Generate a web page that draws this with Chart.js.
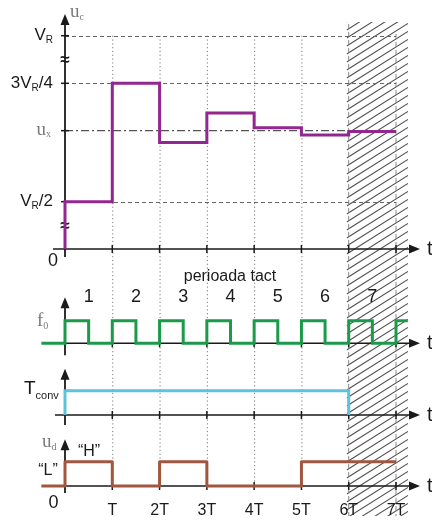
<!DOCTYPE html>
<html><head><meta charset="utf-8">
<script src="https://cdn.jsdelivr.net/npm/chart.js@4"></script>
<style>html,body{margin:0;padding:0;background:#fff;overflow:hidden}canvas{display:block}</style>
</head><body>
<canvas id="c" width="432" height="520"></canvas>
<script>
// ---------------- DATA ----------------
const periods = ['1','2','3','4','5','6','7'];
const timeTickLabels = ['T','2T','3T','4T','5T','6T','7T'];
// u_c (in units of V_R) held during each clock period
const ucLevels = [0.5, 0.75, 0.625, 0.6875, 0.65625, 0.640625, 0.6484375];
const ucStart = 0;
const uxLevel = 0.65;
const ucRefValues = [1, 0.75, 0.5];           // V_R, 3V_R/4, V_R/2
const ucRefLabels = [['V','R',''], ['3V','R','/4'], ['V','R','/2']];
// clock f0
const f0Times  = [-0.5, 0, 0.5, 1, 1.5, 2, 2.5, 3, 3.5, 4, 4.5, 5, 5.5, 6, 6.5, 7, 7.25];
const f0Levels = [0, 1, 0, 1, 0, 1, 0, 1, 0, 1, 0, 1, 0, 1, 0, 1, 1];
// conversion time
const tconvTimes  = [0, 0, 6];
const tconvLevels = [0, 1, 0];
// comparator decision per period (1 = "H", 0 = "L")
const udBits = [1, 0, 1, 0, 0, 1, 1];
const udStartTime = -0.5;
const conversionEnd = 6;

// ---------------- LAYOUT (pixels) ----------------
const X0 = 65, X7 = 396;
const PANELS = { yc: [14, 249], yf: [320.7, 343.3], yt: [390.7, 415], yd: [461.7, 486] };
// broken u_c axis: [value, fraction of axis height]
const UC_PIECES = [[0, 0], [0.5, 0.2013], [0.75, 0.7051], [1, 0.9077], [1.114, 1]];

class BrokenScale extends Chart.LinearScale {
  static id = 'broken';
  static defaults = Chart.LinearScale.defaults;
  getPixelForValue(value) {
    const p = UC_PIECES;
    let i = 1;
    while (i < p.length - 1 && value > p[i][0]) i++;
    const [v0, f0] = p[i - 1], [v1, f1] = p[i];
    const f = f0 + (value - v0) / (v1 - v0) * (f1 - f0);
    return this.bottom - f * (this.bottom - this.top);
  }
  getValueForPixel(pixel) {
    const f = (this.bottom - pixel) / (this.bottom - this.top);
    const p = UC_PIECES;
    let i = 1;
    while (i < p.length - 1 && f > p[i][1]) i++;
    const [v0, f0] = p[i - 1], [v1, f1] = p[i];
    return v0 + (f - f0) / (f1 - f0) * (v1 - v0);
  }
}
Chart.register(BrokenScale);

// build datasets from data arrays
const ucPoints = [{x: 0, y: ucStart}].concat(ucLevels.map((v, i) => ({x: i, y: v})));
ucPoints.push({x: ucLevels.length, y: ucLevels[ucLevels.length - 1]});
const f0Points = f0Times.map((t, i) => ({x: t, y: f0Levels[i]}));
const tconvPoints = tconvTimes.map((t, i) => ({x: t, y: tconvLevels[i]}));
const udPoints = [{x: udStartTime, y: 0}].concat(udBits.map((b, i) => ({x: i, y: b})));
udPoints.push({x: udBits.length, y: udBits[udBits.length - 1]});

const SANS = '"Liberation Sans", Arial, sans-serif';
const SERIF = '"Liberation Serif", "DejaVu Serif", serif';

function drawParts(ctx, parts, x, y, align) {
  let w = 0;
  parts.forEach(p => { ctx.font = p.font; p.w = ctx.measureText(p.t).width; w += p.w; });
  let cx = align === 'right' ? x - w : align === 'center' ? x - w / 2 : x;
  ctx.textBaseline = 'middle'; ctx.textAlign = 'left';
  parts.forEach(p => {
    ctx.font = p.font; ctx.fillStyle = p.color || '#1a1a1a';
    ctx.fillText(p.t, cx, y + (p.dy || 0));
    cx += p.w;
  });
}

const fixLayout = {
  id: 'fixLayout',
  afterLayout(chart) {
    const xs = chart.scales.x;
    const u = (X7 - X0) / 7;
    xs.left = X0 - u; xs.right = X7 + u; xs.width = xs.right - xs.left;
    xs.configure();
    for (const [id, [t, b]] of Object.entries(PANELS)) {
      const s = chart.scales[id];
      s.top = t; s.bottom = b; s.height = b - t;
      s.configure();
    }
  }
};

const diagram = {
  id: 'diagram',
  beforeDatasetsDraw(chart) {
    const ctx = chart.ctx;
    const X = v => chart.scales.x.getPixelForValue(v);
    const yc = chart.scales.yc, yf = chart.scales.yf, yt = chart.scales.yt, yd = chart.scales.yd;
    ctx.save();
    // hatch (after conversion end)
    const hx0 = X(conversionEnd) - 2, hx1 = X(7) + 12, hy0 = 22, hy1 = 516;
    ctx.save();
    ctx.beginPath(); ctx.rect(hx0, hy0, hx1 - hx0, hy1 - hy0); ctx.clip();
    ctx.strokeStyle = '#4d4d4d'; ctx.lineWidth = 1.05;
    const s = 0.63, step = 8;
    for (let b = hy0; b < hy1 + s * (hx1 - hx0) + step; b += step) {
      ctx.beginPath(); ctx.moveTo(hx0, b); ctx.lineTo(hx1, b - s * (hx1 - hx0)); ctx.stroke();
    }
    ctx.restore();
    // dotted verticals at T..5T
    ctx.strokeStyle = '#777'; ctx.lineWidth = 1; ctx.setLineDash([1.2, 2.6]);
    for (let i = 1; i <= 5; i++) {
      ctx.beginPath(); ctx.moveTo(X(i) + 0.5, yc.getPixelForValue(1)); ctx.lineTo(X(i) + 0.5, yd.getPixelForValue(0)); ctx.stroke();
    }
    // dashed verticals at 6T, 7T
    ctx.strokeStyle = '#888'; ctx.setLineDash([5, 3]);
    ctx.beginPath(); ctx.moveTo(X(6), 24); ctx.lineTo(X(6), 516); ctx.stroke();
    ctx.beginPath(); ctx.moveTo(X(7), 34); ctx.lineTo(X(7), 516); ctx.stroke();
    // horizontal reference lines
    ctx.strokeStyle = '#666'; ctx.setLineDash([4, 3]);
    ucRefValues.forEach(v => {
      const y = Math.round(yc.getPixelForValue(v)) + 0.5;
      ctx.beginPath(); ctx.moveTo(X(0), y); ctx.lineTo(X(7), y); ctx.stroke();
    });
    ctx.strokeStyle = '#555'; ctx.lineWidth = 1.3; ctx.setLineDash([8, 3, 2, 3]);
    { const y = yc.getPixelForValue(uxLevel);
      ctx.beginPath(); ctx.moveTo(X(0), y); ctx.lineTo(X(7), y); ctx.stroke(); }
    ctx.setLineDash([]);
    // axes
    const axes = [
      {y0: yc.getPixelForValue(0), tip: yc.top, xStart: 53, below: 8},
      {y0: yf.getPixelForValue(0), tip: yf.top - 23.5, xStart: 55, below: 12},
      {y0: yt.getPixelForValue(0), tip: yt.top - 22, xStart: 55, below: 10},
      {y0: yd.getPixelForValue(0), tip: yd.top - 22.5, xStart: 55, below: 7},
    ];
    ctx.strokeStyle = '#1a1a1a'; ctx.fillStyle = '#1a1a1a';
    axes.forEach(a => {
      ctx.lineWidth = 1.4;
      ctx.beginPath(); ctx.moveTo(a.xStart, a.y0); ctx.lineTo(412, a.y0); ctx.stroke();
      ctx.beginPath(); ctx.moveTo(420, a.y0); ctx.lineTo(409, a.y0 - 4.5); ctx.lineTo(409, a.y0 + 4.5); ctx.closePath(); ctx.fill();
      ctx.lineWidth = 1.8;
      ctx.beginPath(); ctx.moveTo(X(0), a.y0 + a.below); ctx.lineTo(X(0), a.tip + 8); ctx.stroke();
      ctx.beginPath(); ctx.moveTo(X(0), a.tip); ctx.lineTo(X(0) - 4.5, a.tip + 11); ctx.lineTo(X(0) + 4.5, a.tip + 11); ctx.closePath(); ctx.fill();
      ctx.lineWidth = 1.5;
      for (let i = 1; i <= 7; i++) {
        ctx.beginPath(); ctx.moveTo(X(i), a.y0 - 4); ctx.lineTo(X(i), a.y0 + 4); ctx.stroke();
      }
    });
    // y ticks on u_c axis
    ctx.lineWidth = 1.5;
    ucRefValues.concat([uxLevel]).forEach(v => {
      const y = yc.getPixelForValue(v);
      ctx.beginPath(); ctx.moveTo(X(0) - 4, y); ctx.lineTo(X(0) + 4, y); ctx.stroke();
    });
    // axis break marks
    ctx.font = 'bold 17px ' + SANS; ctx.textAlign = 'center'; ctx.textBaseline = 'middle';
    ctx.fillText('\u2248', X(0), (yc.getPixelForValue(1) + yc.getPixelForValue(0.75)) / 2 + 1);
    ctx.fillText('\u2248', X(0), (yc.getPixelForValue(0.5) + yc.getPixelForValue(0)) / 2 + 1);
    ctx.restore();
  },
  afterDatasetsDraw(chart) {
    const ctx = chart.ctx;
    const X = v => chart.scales.x.getPixelForValue(v);
    const yc = chart.scales.yc, yf = chart.scales.yf, yt = chart.scales.yt, yd = chart.scales.yd;
    ctx.save();
    const M17 = '17px ' + SANS, S10 = '10px ' + SANS, GREY = '#7a7a7a';
    // u_c axis labels
    ucRefValues.forEach((v, i) => {
      const [a, b, c] = ucRefLabels[i];
      drawParts(ctx, [{t: a, font: M17}, {t: b, font: S10, dy: 5}, {t: c, font: M17}], 53, yc.getPixelForValue(v), 'right');
    });
    drawParts(ctx, [{t: 'u', font: '19px ' + SERIF, color: GREY}, {t: 'x', font: '10px ' + SERIF, color: GREY, dy: 5}], 51, yc.getPixelForValue(uxLevel) - 1, 'right');
    drawParts(ctx, [{t: 'u', font: '19px ' + SERIF, color: GREY}, {t: 'c', font: '10px ' + SERIF, color: GREY, dy: 5}], 70, 12, 'left');
    drawParts(ctx, [{t: '0', font: '18px ' + SANS}], 53, 261, 'center');
    // t labels
    [yc.getPixelForValue(0), yf.getPixelForValue(0), yt.getPixelForValue(0), yd.getPixelForValue(0)].forEach(y =>
      drawParts(ctx, [{t: 't', font: '20px ' + SANS}], 427, y, 'left'));
    // period labels
    drawParts(ctx, [{t: 'perioada tact', font: '16px ' + SANS}], 230, 277, 'center');
    periods.forEach((p, i) => drawParts(ctx, [{t: p, font: '18px ' + SANS}], X(i + 0.5), 297, 'center'));
    // panel labels
    drawParts(ctx, [{t: 'f', font: '19px ' + SERIF, color: GREY}, {t: '0', font: '10px ' + SERIF, color: GREY, dy: 5}], 37, 321, 'left');
    drawParts(ctx, [{t: 'T', font: '19px ' + SANS}, {t: 'conv', font: '11px ' + SANS, dy: 7}], 24, 389, 'left');
    drawParts(ctx, [{t: 'u', font: '19px ' + SERIF, color: GREY}, {t: 'd', font: '10px ' + SERIF, color: GREY, dy: 5}], 42, 442, 'left');
    drawParts(ctx, [{t: '\u201cH\u201d', font: '16px ' + SANS}], 89, 452, 'center');
    drawParts(ctx, [{t: '\u201cL\u201d', font: '16px ' + SANS}], 48, 471, 'center');
    drawParts(ctx, [{t: '0', font: '18px ' + SANS}], 53.5, 503, 'center');
    timeTickLabels.forEach((l, i) => drawParts(ctx, [{t: l, font: '16px ' + SANS}], X(i + 1), 511, 'center'));
    ctx.restore();
  }
};

const base = {pointRadius: 0, borderWidth: 3, fill: false, clip: false, stepped: true, tension: 0};
new Chart(document.getElementById('c'), {
  type: 'line',
  data: { datasets: [
    Object.assign({label: 'u_c', data: ucPoints, yAxisID: 'yc', borderColor: '#92278f'}, base),
    Object.assign({label: 'f0', data: f0Points, yAxisID: 'yf', borderColor: '#1b9a4a'}, base),
    Object.assign({label: 'Tconv', data: tconvPoints, yAxisID: 'yt', borderColor: '#5cc3d8'}, base),
    Object.assign({label: 'u_d', data: udPoints, yAxisID: 'yd', borderColor: '#a0563f', borderJoinStyle: 'round'}, base),
  ]},
  options: {
    responsive: false, animation: false, events: [],
    layout: {padding: 0},
    plugins: {legend: {display: false}, tooltip: {enabled: false}},
    scales: {
      x: {type: 'linear', min: -1, max: 8, display: false},
      yc: {type: 'broken', min: 0, max: 1.114, display: false},
      yf: {type: 'linear', min: 0, max: 1, display: false},
      yt: {type: 'linear', min: 0, max: 1, display: false},
      yd: {type: 'linear', min: 0, max: 1, display: false},
    }
  },
  plugins: [fixLayout, diagram]
});
</script>
</body></html>
